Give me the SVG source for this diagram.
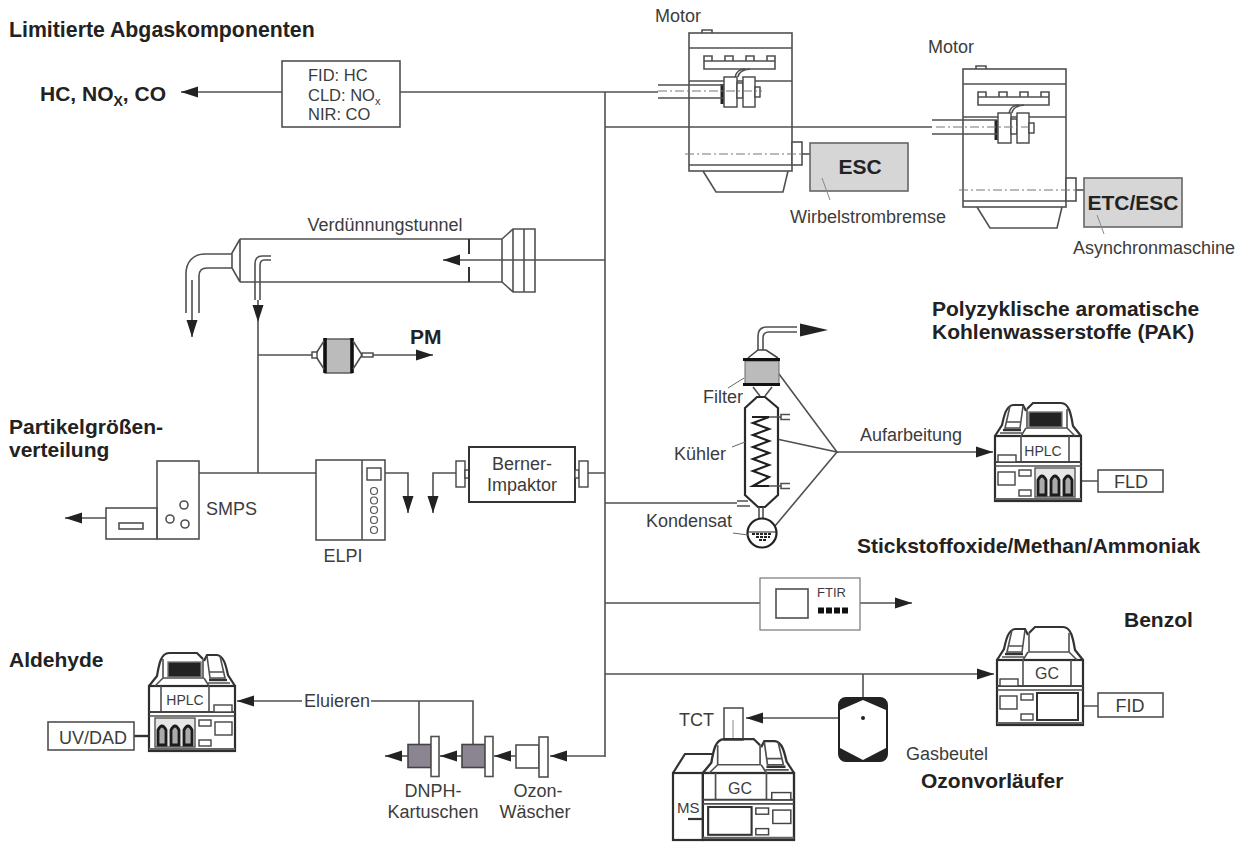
<svg xmlns="http://www.w3.org/2000/svg" xmlns:xlink="http://www.w3.org/1999/xlink" width="1247" height="843" viewBox="0 0 1247 843">
<style>
text{font-family:"Liberation Sans",Arial,sans-serif;fill:#3c3c3c;font-size:18px}
.b{font-weight:bold;fill:#222;font-size:21px}
.m{text-anchor:middle}
.l{fill:none;stroke:#505050;stroke-width:1.6}
.t{fill:none;stroke:#333;stroke-width:2.2}
.w{fill:#fff;stroke:#505050;stroke-width:1.6}
.i{fill:#fff;stroke:#444;stroke-width:1.4}
.d{fill:none;stroke:#777;stroke-width:1.2;stroke-dasharray:9 3 2 3}
.f{fill:#d6d6d6;stroke:#666;stroke-width:1.6}
.h{fill:none;stroke:#888;stroke-width:1}
.c{fill:none;stroke:#555;stroke-width:1.2}
.s{font-size:16.5px}
.x{font-size:11px}
.a{fill:none;stroke:#505050;stroke-width:1.6;marker-end:url(#arr)}
</style>
<defs>
<marker id="arr" markerUnits="userSpaceOnUse" viewBox="0 0 17 12" markerWidth="17" markerHeight="12" refX="17" refY="6" orient="auto"><path d="M0,0.5L17,6L0,11.5Z" fill="#222"/></marker>
<g id="motor">
<rect class="l" x="689" y="33" width="103" height="138"/>
<path class="l" d="M689,48H792M689,81H792M689,165H792"/>
<path class="l" d="M703,171L716,192H783L788,171"/>
<path class="l" d="M702,33V30H712V33"/>
<path class="l" d="M704,69V61H775V69ZM704,61V56H712V61M725,61V56H733V61M746,61V56H754V61M767,61V56H775V61"/>
<path class="l" d="M735,77Q737,69 745,69M738,77Q739,70 750,69"/>
<rect class="i" x="724" y="77" width="13" height="30"/>
<rect class="i" x="737" y="83" width="6" height="15"/>
<rect class="i" x="743" y="77" width="12" height="30"/>
<rect class="i" x="755" y="87" width="5" height="10"/>
<path d="M722,84V104" stroke="#222" stroke-width="3" fill="none"/>
<rect class="w" x="792" y="142" width="10" height="23"/>
<path class="l" d="M802,154H810"/>
<path class="d" d="M685,154H802"/>
</g>
<g id="inst">
<rect x="0" y="0" width="86" height="65" fill="#fff" stroke="#2e2e2e" stroke-width="2.2"/>
<path class="t" d="M86,0L78,-10C76,-22 74,-33 66,-33L38,-33L32,-27"/>
<path class="t" d="M0,0L7,-11C9,-20 11,-30 18,-31L28,-31L31,-25"/>
<path class="l" d="M15,-30L10,-8H25L28,-30M12,-14H26M5,-3H27"/>
<path d="M8,-6H26" stroke="#333" stroke-width="2.4" fill="none"/>
<path class="l" d="M32,-27V-8H72V-27M31,-8L26,0M72,-8L80,0"/>
<path class="l" d="M26,0V26M74,0V26M0,30H86"/>
<path d="M0,26H86" stroke="#444" stroke-width="2" fill="none"/>
<path d="M0,63H86" stroke="#666" stroke-width="2" fill="none"/>
<rect class="i" x="3" y="19" width="18" height="7"/>
<rect class="i" x="3" y="36" width="17" height="13"/>
<rect class="i" x="24" y="34" width="12" height="6"/>
<rect class="i" x="24" y="54" width="12" height="6"/>
</g>
<g id="screen"><rect x="34" y="-24" width="33" height="15" fill="#222" stroke="#777" stroke-width="1.4"/></g>
<g id="bottles">
<rect x="40" y="32" width="40" height="29" fill="#e6e6e6" stroke="#555" stroke-width="1.4"/>
<path d="M43,59V44Q47,36 51,44V59ZM56,59V44Q60,36 64,44V59ZM69,59V44Q73,36 77,44V59Z" fill="#aaa" stroke="#1c1c1c" stroke-width="2.8"/>
</g>
<g id="gcpanel"><rect x="40" y="33" width="41" height="27" fill="#fff" stroke="#333" stroke-width="2"/></g>
<g id="car"><rect x="0" y="-11.5" width="23" height="23" fill="#8a8590" stroke="#444" stroke-width="1.6"/><rect class="w" x="23" y="-19.5" width="8" height="40"/></g>
</defs>
<rect width="1247" height="843" fill="#fff"/>

<g id="connectors">
<path class="l" d="M605,92V757M400,92H658M605,127H932"/>
<path class="a" d="M282,92H181"/>
<path class="a" d="M605,260H443"/>
<path class="a" d="M258,300V322"/>
<path class="l" d="M258,322V473M199,473H316"/>
<path class="l" d="M258,355H312"/>
<path class="a" d="M373,355H433"/>
<path class="a" d="M106,518H65"/>
<path class="a" d="M385,473H408V513"/>
<path class="a" d="M456,473H433V513"/>
<path class="l" d="M588,473H605M605,503H737"/>
<path class="l" d="M779,374L837,452L772,438M837,452L775,526"/>
<path class="a" d="M837,452H993"/>
<path class="l" d="M605,603H760"/>
<path class="a" d="M860,603H912"/>
<path class="a" d="M605,674H994"/>
<path class="l" d="M863,674V697"/>
<path class="a" d="M863,718H746"/>
<path class="a" d="M302,701H237"/>
<path class="l" d="M371,701H473V745M419,701V745"/>
<path class="a" d="M605,756H550"/>
<path class="a" d="M516,756H494"/>
<path class="a" d="M462,756H440"/>
<path class="a" d="M408,756H385"/>
<path class="l" d="M1083,706H1098M1080,481H1098"/>
<path d="M134,736H150" stroke="#333" stroke-width="2.4" fill="none"/>
</g>

<g id="titles">
<text class="b" x="9" y="37" style="font-size:21.3px">Limitierte Abgaskomponenten</text>
<text class="b" x="932" y="316">Polyzyklische aromatische</text>
<text class="b" x="932" y="339">Kohlenwasserstoffe (PAK)</text>
<text class="b" x="857" y="553">Stickstoffoxide/Methan/Ammoniak</text>
<text class="b" x="1124" y="627">Benzol</text>
<text class="b" x="921" y="788">Ozonvorläufer</text>
<text class="b" x="9" y="434">Partikelgrößen-</text>
<text class="b" x="9" y="457">verteilung</text>
<text class="b" x="9" y="667">Aldehyde</text>
<text class="b" x="40" y="101">HC, NO<tspan font-size="14" dy="5">X</tspan><tspan dy="-5">, CO</tspan></text>
<text class="b" x="410" y="344">PM</text>
</g>

<g id="fid-box">
<rect class="w" x="282" y="61" width="118" height="66"/>
<text class="s" x="308" y="81">FID: HC</text>
<text class="s" x="308" y="101">CLD: NO<tspan class="x" dy="4">x</tspan></text>
<text class="s" x="308" y="120">NIR: CO</text>
</g>

<g id="motor1">
<use href="#motor" xlink:href="#motor"/>
<path class="l" d="M658,85H724M658,98H724"/>
<path class="d" d="M658,91H762"/>
<text x="655" y="22">Motor</text>
</g>
<g id="esc">
<rect class="f" x="810" y="143" width="98" height="48"/>
<text class="b m" x="860" y="174">ESC</text>
<path class="h" d="M822,178L830,200"/>
<text x="790" y="223">Wirbelstrombremse</text>
</g>

<g id="motor2">
<use href="#motor" xlink:href="#motor" transform="translate(274,36)"/>
<path class="l" d="M932,120H997M932,134H997"/>
<path class="d" d="M936,127H1036"/>
<text x="928" y="53">Motor</text>
</g>
<g id="etc">
<rect class="f" x="1084" y="178" width="98" height="49"/>
<text class="b m" x="1133" y="210">ETC/ESC</text>
<path class="h" d="M1097,215L1104,234"/>
<text x="1073" y="254">Asynchronmaschine</text>
</g>

<g id="tunnel">
<path class="l" d="M240,239H502M240,282H502M240,239V282M240,239L232,253V268L240,282"/>
<path class="l" d="M232,254H205C193,254 186,262 186,274V313M232,268H207C202,268 199,271 199,276V313"/>
<path class="a" d="M192,280V337"/>
<path class="l" d="M502,239V282M502,239L513,229H535V292H513L502,282M513,229V292M524,229V292"/>
<path d="M469,239V254M469,267V282" stroke="#333" stroke-width="2" fill="none"/>
<path class="l" d="M271,256H262Q255,256 255,264V300M271,260H264Q260,260 260,266V300"/>
<text class="m" x="385" y="231">Verdünnungstunnel</text>
</g>

<g id="pm-filter">
<rect x="325" y="339" width="27" height="34" fill="#bbb" stroke="#555" stroke-width="1.4"/>
<path d="M325,338V373M352,338V373" stroke="#111" stroke-width="3.6" fill="none"/>
<path class="l" d="M324,341L315,355L324,369M353,341L362,355L353,369"/>
<rect class="i" x="312" y="352" width="5" height="6"/>
<rect class="i" x="362" y="353" width="11" height="4"/>
</g>

<g id="smps">
<rect class="l" x="157" y="461" width="42" height="78"/>
<rect class="l" x="106" y="508" width="51" height="31"/>
<rect class="l" x="119" y="523" width="24" height="6"/>
<circle class="l" cx="184" cy="505" r="4"/><circle class="l" cx="170" cy="519" r="4"/><circle class="l" cx="185" cy="524" r="4"/>
<text x="206" y="515">SMPS</text>
</g>

<g id="elpi">
<rect class="l" x="316" y="460" width="69" height="80"/>
<path class="l" d="M362,460V540"/>
<rect class="i" x="367" y="468" width="14" height="12"/>
<circle class="c" cx="374" cy="491" r="3.5"/><circle class="c" cx="374" cy="500.5" r="3.5"/><circle class="c" cx="374" cy="510" r="3.5"/><circle class="c" cx="374" cy="520" r="3.5"/><circle class="c" cx="374" cy="530" r="3.5"/>
<text class="m" x="343" y="562">ELPI</text>
</g>

<g id="berner">
<rect class="i" x="456" y="461" width="9" height="26"/>
<rect class="i" x="465" y="470" width="4" height="8"/>
<rect x="469" y="447" width="106" height="55" fill="#fff" stroke="#333" stroke-width="2"/>
<rect class="i" x="575" y="470" width="4" height="8"/>
<rect class="i" x="579" y="461" width="9" height="26"/>
<text class="m" x="522" y="470">Berner-</text>
<text class="m" x="522" y="491">Impaktor</text>
</g>

<g id="condenser">
<path class="l" d="M758,350V336Q758,327 767,327H797M763,350V338Q763,332 769,332H797"/>
<path d="M800,323.5L828,330L800,336.5Z" fill="#222"/>
<path d="M748,358L758,350H766L778,358" fill="#fff" stroke="#444" stroke-width="1.6"/>
<rect x="745" y="361" width="34" height="23" fill="#bbb" stroke="#666" stroke-width="1"/>
<path d="M743,359.5H780M743,384.5H780" stroke="#111" stroke-width="3.2" fill="none"/>
<path class="l" d="M753,387L760,396M772,387L765,396"/>
<path d="M745,408L757,397H765L778,408V495L765,507H758L745,495Z" fill="#fff" stroke="#2a2a2a" stroke-width="2.2"/>
<path d="M752,417H769L753,423L769,429L753,435L769,441L753,447L769,453L753,459L769,465L753,471L769,477L753,486H769" fill="none" stroke="#1e1e1e" stroke-width="2.2"/>
<path class="l" d="M769,417H781M790,414.5H781V419.5H790"/>
<path class="l" d="M769,486H781M790,483.5H781V488.5H790"/>
<path class="l" d="M737,501H748M737,506H750"/>
<path class="l" d="M759,507V518M763,507V518"/>
<circle cx="762" cy="533" r="14.5" fill="#fff" stroke="#222" stroke-width="2.2"/>
<path d="M748,532H776" stroke="#444" stroke-width="1.2" fill="none"/>
<path d="M752,534H772M756,537H770M759,540H766" stroke="#222" stroke-width="2" stroke-dasharray="3 1" fill="none"/>
<path class="h" d="M728,388L744,378M732,447L745,442M733,533L748,535" style="stroke:#666"/>
<text x="703" y="403">Filter</text>
<text x="674" y="460">Kühler</text>
<text x="732" y="527" text-anchor="end">Kondensat</text>
<text x="860" y="441">Aufarbeitung</text>
</g>

<g id="hplc-fld">
<use href="#inst" xlink:href="#inst" transform="translate(995,436)"/>
<use href="#screen" xlink:href="#screen" transform="translate(995,436)"/>
<use href="#bottles" xlink:href="#bottles" transform="translate(995,436)"/>
<text class="m" x="1043" y="456" style="font-size:14px">HPLC</text>
<rect class="l" x="1098" y="470" width="65" height="22"/>
<text class="m" x="1131" y="488">FLD</text>
</g>

<g id="ftir">
<rect x="760" y="578" width="100" height="52" fill="none" stroke="#777" stroke-width="1.2"/>
<rect class="l" x="776" y="589" width="32" height="29"/>
<text x="817" y="597" style="font-size:13px">FTIR</text>
<path d="M818,610.5H848" stroke="#111" stroke-width="6" stroke-dasharray="6 2" fill="none"/>
</g>

<g id="gc-fid">
<use href="#inst" xlink:href="#inst" transform="translate(997,660)"/>
<use href="#gcpanel" xlink:href="#gcpanel" transform="translate(997,660)"/>
<text class="m" x="1047" y="679" style="font-size:16px">GC</text>
<rect class="l" x="1098" y="693" width="65" height="24"/>
<text class="m" x="1130" y="712">FID</text>
</g>

<g id="gasbeutel">
<rect x="839" y="698" width="48" height="63" rx="7" fill="#222" stroke="#222" stroke-width="2"/>
<path d="M840,710L863,700L886,710V748L863,760L840,748Z" fill="#fff"/>
<circle cx="863" cy="718" r="2" fill="#222"/>
<text x="906" y="760">Gasbeutel</text>
</g>

<g id="gc-ms">
<rect class="l" x="724" y="708" width="19" height="32"/>
<path class="h" d="M733,720V738"/>
<text x="679" y="726">TCT</text>
<path class="t" d="M673,773L685,754H713"/>
<rect x="673" y="773" width="30" height="67" fill="#fff" stroke="#2e2e2e" stroke-width="2.2"/>
<use href="#inst" xlink:href="#inst" transform="translate(794,773) scale(-1.06,1.03)"/>
<use href="#gcpanel" xlink:href="#gcpanel" transform="translate(794,773) scale(-1.06,1.03)"/>
<text x="677" y="813" style="font-size:15px">MS</text>
<path class="t" d="M688,819H702"/>
<text class="m" x="740" y="794" style="font-size:16px">GC</text>
</g>

<g id="hplc-uv">
<use href="#inst" xlink:href="#inst" transform="translate(235,686) scale(-1,1)"/>
<use href="#screen" xlink:href="#screen" transform="translate(235,686) scale(-1,1)"/>
<use href="#bottles" xlink:href="#bottles" transform="translate(235,686) scale(-1,1)"/>
<text class="m" x="185" y="705" style="font-size:14px">HPLC</text>
<rect class="l" x="48" y="722" width="86" height="28"/>
<text class="m" x="93" y="744">UV/DAD</text>
<text x="304" y="707">Eluieren</text>
</g>

<g id="dnph1"><use href="#car" xlink:href="#car" transform="translate(408,756)"/></g>
<g id="dnph2"><use href="#car" xlink:href="#car" transform="translate(462,756)"/>
<text class="m" x="433" y="797">DNPH-</text>
<text class="m" x="433" y="818">Kartuschen</text></g>
<g id="ozon">
<rect class="w" x="516" y="745" width="23" height="23"/>
<rect class="w" x="539" y="737" width="9" height="40"/>
<text class="m" x="538" y="797">Ozon-</text>
<text class="m" x="535" y="818">Wäscher</text>
</g>
</svg>
